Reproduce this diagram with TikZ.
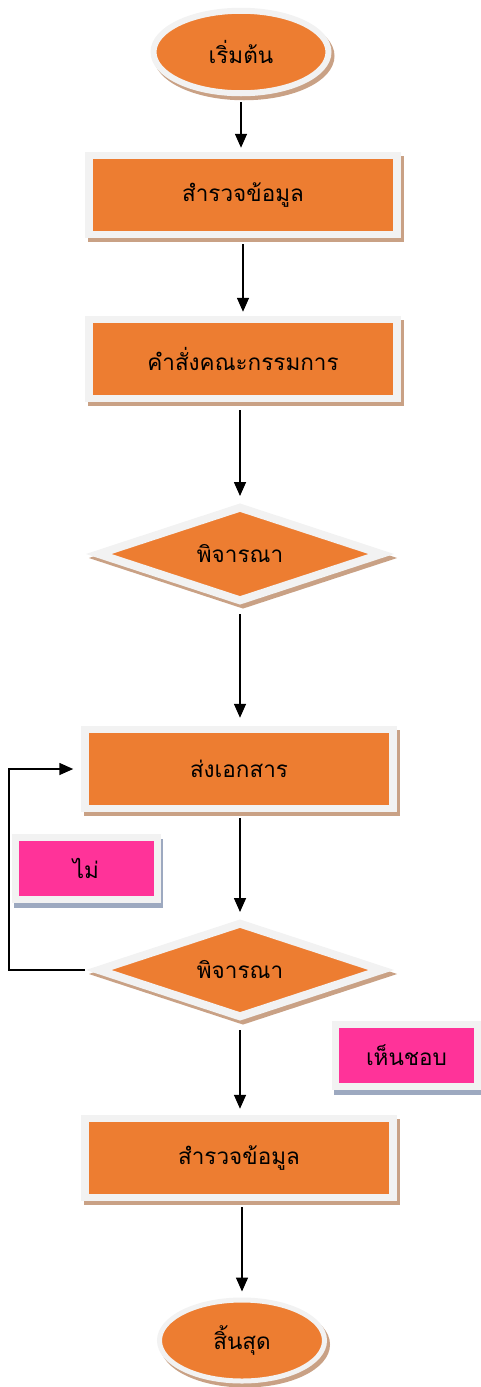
\documentclass[tikz,border=0pt]{standalone}
\usepackage{fontspec}
\newfontfamily\thaifont[Script=Thai]{Loma}
\usetikzlibrary{shapes.geometric,arrows.meta}
\definecolor{orng}{HTML}{ED7D31}
\definecolor{lgray}{HTML}{F2F2F2}
\definecolor{shbrown}{HTML}{C9A185}
\definecolor{pinkc}{HTML}{FF3399}
\definecolor{shblue}{HTML}{9DA9C0}
\begin{document}
\begin{tikzpicture}[x=1pt,y=-1pt,
  base/.style={inner sep=0pt, draw=lgray, font=\thaifont\fontsize{22.5pt}{26pt}\selectfont, text=black},
  brownshadow/.style={preaction={draw=shbrown, fill=shbrown, transform canvas={shift={(3pt,-4pt)}}}},
  blueshadow/.style={preaction={draw=shblue, fill=shblue, transform canvas={shift={(2pt,-5pt)}}}},
  procbox/.style={base, brownshadow, rectangle, fill=orng, line width=7.5pt, minimum width=308pt, minimum height=79pt},
  decbox/.style={base, brownshadow, diamond, fill=orng, line width=8pt, minimum width=286pt, minimum height=96pt, aspect=2.98},
  termbox/.style={base, brownshadow, ellipse, fill=orng},
  labelbox/.style={base, blueshadow, rectangle, fill=pinkc, line width=7pt, minimum width=142pt, minimum height=62pt},
  conn/.style={line width=1.6pt, -{Triangle[width=12pt,length=14pt]}}
]
\useasboundingbox (0,0) rectangle (480,1387);
\node[termbox, minimum width=175pt, minimum height=82.5pt, line width=6pt] (start) at (241,52) {เริ่มต้น};
\node[procbox] (r1) at (243,195) {สำรวจข้อมูล};
\node[procbox] (r2) at (243,359) {คำสั่งคณะกรรมการ};
\node[decbox] (d1) at (240,554) {พิจารณา};
\node[procbox] (r3) at (239,769) {ส่งเอกสาร};
\node[decbox] (d2) at (240,970) {พิจารณา};
\node[procbox] (r4) at (239,1158) {สำรวจข้อมูล};
\node[termbox, minimum width=165pt, minimum height=81pt, line width=5pt] (stop) at (242,1340.5) {สิ้นสุด};
\node[labelbox] (no) at (86,868.5) {ไม่};
\node[labelbox] (yes) at (406.5,1055.5) {เห็นชอบ};
\coordinate (loop) at (9,970);
\draw[conn, shorten <=6pt, shorten >=4pt] (start.south) -- (start.south |- r1.north);
\draw[conn, shorten <=6pt, shorten >=4pt] (r1.south) -- (r1.south |- r2.north);
\draw[conn, shorten <=8pt, shorten >=6pt] (r2.south -| d1.north) -- (d1.north);
\draw[conn, shorten <=8pt, shorten >=8pt] (d1.south) -- (d1.south |- r3.north);
\draw[conn, shorten <=6pt, shorten >=6pt] (r3.south -| d2.north) -- (d2.north);
\draw[conn, shorten <=8pt, shorten >=6pt] (d2.south) -- (d2.south |- r4.north);
\draw[conn, shorten <=6pt, shorten >=6pt] (r4.south -| stop.north) -- (stop.north);
\draw[conn, shorten >=8pt] (d2.west) ++(-8,0) -- (loop) |- (r3.west);
\end{tikzpicture}
\end{document}
